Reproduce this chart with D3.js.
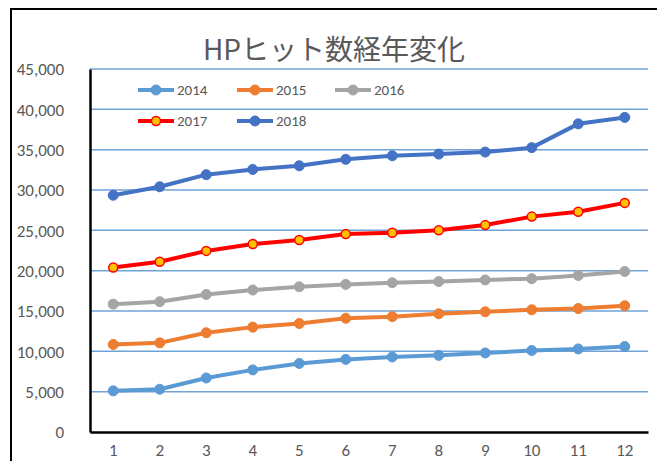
<!DOCTYPE html>
<html>
<head>
<meta charset="utf-8">
<script src="https://cdnjs.cloudflare.com/ajax/libs/d3/7.8.5/d3.min.js"></script>
<style>
  body { margin: 0; background: #fff; }
  text { font-family: Carlito, Lato, "Liberation Sans", sans-serif; fill: #595959; }
</style>
</head>
<body>
<div id="chart"></div>
<script>
var months = [1, 2, 3, 4, 5, 6, 7, 8, 9, 10, 11, 12];
var seriesNames = ['2014', '2015', '2016', '2017', '2018'];
var v2014 = [5100, 5300, 6700, 7700, 8500, 9000, 9300, 9500, 9800, 10100, 10300, 10600];
var v2015 = [10850, 11050, 12300, 13000, 13450, 14100, 14300, 14650, 14900, 15150, 15300, 15650];
var v2016 = [15850, 16150, 17050, 17600, 18000, 18300, 18500, 18650, 18850, 19000, 19400, 19900];
var v2017 = [20400, 21100, 22450, 23300, 23800, 24550, 24700, 25000, 25650, 26700, 27300, 28400];
var v2018 = [29350, 30400, 31900, 32550, 33000, 33800, 34250, 34450, 34700, 35250, 38200, 39000];
var yTicks = [0, 5000, 10000, 15000, 20000, 25000, 30000, 35000, 40000, 45000];

var series = [
    { name: '2014', values: v2014, color: '#5B9BD5', fill: '#5B9BD5', r: 5 },
    { name: '2015', values: v2015, color: '#ED7D31', fill: '#ED7D31', r: 5 },
    { name: '2016', values: v2016, color: '#A5A5A5', fill: '#A5A5A5', r: 5 },
    { name: '2017', values: v2017, color: '#FF0000', fill: '#FFC000', r: 4.5 },
    { name: '2018', values: v2018, color: '#4472C4', fill: '#4472C4', r: 5 }
];

var width = 657,
    height = 461,
    svg = d3.select('#chart')
    .append('svg')
    .attr('width', width)
    .attr('height', height);

// chart frame
svg.append('rect')
    .attr('x', 11).attr('y', 9)
    .attr('width', 700).attr('height', 500)
    .attr('fill', '#fff')
    .attr('stroke', '#000')
    .attr('stroke-width', 2);

var x = d3.scaleBand().domain(months).range([90, 648]);
var y = d3.scaleLinear().domain([0, 45000]).range([432, 69]);

// gridlines
svg.append('g')
    .selectAll('line')
    .data(yTicks.filter(function(d) { return d > 0; }))
    .enter()
    .append('line')
    .attr('x1', 90).attr('x2', 648)
    .attr('y1', function(d) { return y(d); })
    .attr('y2', function(d) { return y(d); })
    .attr('stroke', '#6FA3D8')
    .attr('stroke-width', 1.5);

// axes
var yAxis = svg.append('g')
    .attr('transform', 'translate(90,0)')
    .call(d3.axisLeft(y).tickValues(yTicks).tickSize(0).tickPadding(26).tickFormat(d3.format(',')));
yAxis.select('.domain').attr('stroke', '#000').attr('stroke-width', 2.5);
yAxis.selectAll('text').style('font-size', '17px').attr('dy', '0.35em');

var xAxis = svg.append('g')
    .attr('transform', 'translate(0,432)')
    .call(d3.axisBottom(x).tickSize(0).tickPadding(12));
xAxis.select('.domain').attr('stroke', '#000').attr('stroke-width', 2.5);
xAxis.selectAll('text').style('font-size', '17px');

// title
svg.append('text')
    .attr('x', 334).attr('y', 60)
    .attr('text-anchor', 'middle')
    .style('font-family', '"Noto Sans CJK JP", sans-serif')
    .style('font-size', '28px')
    .text('HPヒット数経年変化');

var cx = function(i) { return x(months[i]) + x.bandwidth() / 2; };
var line = d3.line()
    .x(function(d, i) { return cx(i); })
    .y(function(d) { return y(d); });

series.forEach(function(s) {
    var g = svg.append('g');
    g.append('path')
        .attr('d', line(s.values))
        .attr('fill', 'none')
        .attr('stroke', s.color)
        .attr('stroke-width', 4)
        .attr('stroke-linejoin', 'round');
    g.selectAll('circle')
        .data(s.values)
        .enter()
        .append('circle')
        .attr('cx', function(d, i) { return cx(i); })
        .attr('cy', function(d) { return y(d); })
        .attr('r', s.r)
        .attr('fill', s.fill)
        .attr('stroke', s.color)
        .attr('stroke-width', s.name === '2017' ? 1.5 : 1);
});

// legend
var legendPos = [[138, 90], [237, 90], [335, 90], [138, 121], [237, 121]];
series.forEach(function(s, i) {
    var lg = svg.append('g')
        .attr('transform', 'translate(' + legendPos[i][0] + ',' + legendPos[i][1] + ')');
    lg.append('line')
        .attr('x1', 0).attr('x2', 36)
        .attr('stroke', s.color)
        .attr('stroke-width', 4);
    lg.append('circle')
        .attr('cx', 18).attr('r', s.r)
        .attr('fill', s.fill)
        .attr('stroke', s.color)
        .attr('stroke-width', s.name === '2017' ? 1.5 : 1);
    lg.append('text')
        .attr('x', 39).attr('dy', '0.35em')
        .style('font-size', '15px')
        .text(s.name);
});
</script>
</body>
</html>
